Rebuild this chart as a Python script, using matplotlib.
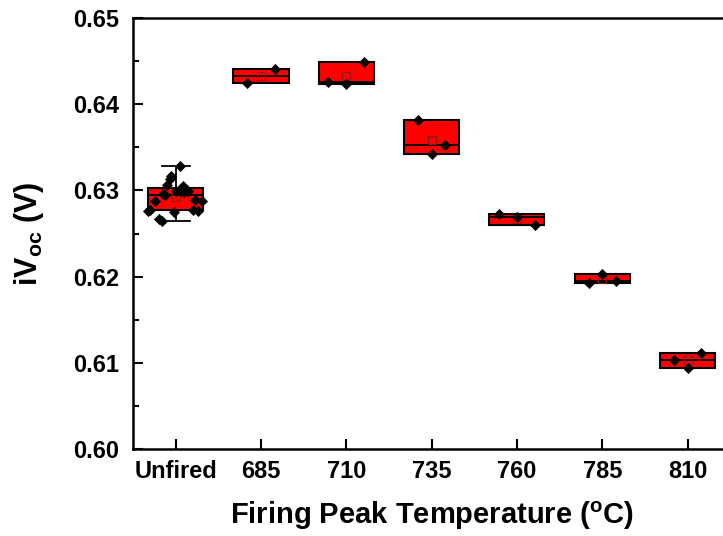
import numpy as np
import matplotlib
matplotlib.use("Agg")
import matplotlib.pyplot as plt

plt.rcParams['font.family'] = ['Liberation Sans', 'DejaVu Sans']
plt.rcParams['font.weight'] = 'bold'
plt.rcParams['mathtext.fontset'] = 'custom'
plt.rcParams['mathtext.rm'] = 'Liberation Sans:bold'
plt.rcParams['mathtext.it'] = 'Liberation Sans:bold'
plt.rcParams['mathtext.bf'] = 'Liberation Sans:bold'
plt.rcParams['mathtext.default'] = 'rm'

categories = ['Unfired', '685', '710', '735', '760', '785', '810']

unfired = [0.63280, 0.63164, 0.63136, 0.63066, 0.62990, 0.62997, 0.62978, 0.62990,
           0.63048, 0.62945, 0.62955, 0.62874, 0.62892, 0.62880, 0.62776, 0.62758,
           0.62749, 0.62776, 0.62758, 0.62672, 0.62642]
t685 = [0.64245, 0.64412]
t710 = [0.64258, 0.64234, 0.64493]
t735 = [0.63813, 0.63419, 0.63527]
t760 = [0.62732, 0.62691, 0.62599]
t785 = [0.61926, 0.62030, 0.61949]
t810 = [0.61032, 0.60943, 0.61117]

groups = [unfired, t685, t710, t735, t760, t785, t810]

# horizontal jitter of the scatter points (display only)
unfired_jitter = [0.05, -0.05, -0.07, -0.10, 0.0, 0.06, 0.10, 0.14, 0.08, -0.12,
                  -0.15, -0.24, 0.23, 0.31, -0.30, -0.32, -0.02, 0.20, 0.26, -0.20, -0.16]
jitters = [unfired_jitter, [-0.16, 0.16], [-0.21, 0.0, 0.21], [-0.16, 0.0, 0.16],
           [-0.21, 0.0, 0.21], [-0.16, 0.0, 0.16], [-0.16, 0.0, 0.16]]

yticks = [0.60, 0.61, 0.62, 0.63, 0.64, 0.65]

fig = plt.figure(figsize=(7.23, 5.36), dpi=100)
ax = fig.add_axes([0.184, 0.1623, 0.826, 0.8041])

positions = np.arange(1, len(categories) + 1)
stats = []
for vals in groups:
    v = np.asarray(vals)
    q1, med, q3 = np.percentile(v, [25, 50, 75], method='weibull')
    stats.append(dict(med=med, q1=q1, q3=q3, whislo=v.min(), whishi=v.max(),
                      mean=v.mean(), fliers=[]))

ax.bxp(stats, positions=positions, widths=0.645, patch_artist=True, showmeans=True,
       showfliers=False,
       boxprops=dict(facecolor='#ff0000', edgecolor='black', linewidth=1.5),
       medianprops=dict(color='black', linewidth=1.3),
       whiskerprops=dict(color='black', linewidth=1.3),
       capprops=dict(color='black', linewidth=1.3),
       capwidths=0.33,
       meanprops=dict(marker='s', markerfacecolor='none', markeredgecolor='#8b1a1a',
                      markersize=5.5, markeredgewidth=0.8))

for pos, vals, jit in zip(positions, groups, jitters):
    ax.scatter(pos + np.asarray(jit), vals, marker='D', s=32, color='black', zorder=5,
               linewidths=0)

ax.set_xlim(0.5, 7.5)
ax.set_ylim(0.60, 0.65)
ax.set_xticks(positions)
ax.set_xticklabels(categories)
ax.set_yticks(yticks)
ax.set_yticklabels([f'{t:.2f}' for t in yticks])
ax.set_yticks(np.arange(0.605, 0.65, 0.01), minor=True)

ax.tick_params(axis='both', which='major', direction='in', length=7, width=1.5,
               labelsize=17)
ax.tick_params(axis='x', which='major', pad=8)
ax.tick_params(axis='y', which='major', pad=10)
ax.tick_params(axis='y', which='minor', direction='in', length=4, width=1.5)
ax.tick_params(top=False, right=False)
for s in ax.spines.values():
    s.set_linewidth(1.8)

ax.set_xlabel(r'Firing Peak Temperature ($^{\mathrm{o}}$C)', fontsize=21, fontweight='bold')
ax.set_ylabel(r'iV$_{\mathrm{oc}}$ (V)', fontsize=22, fontweight='bold')
ax.xaxis.set_label_coords(0.5, -0.118)
ax.yaxis.set_label_coords(-0.145, 0.5)

fig.savefig('out.png', dpi=100)
